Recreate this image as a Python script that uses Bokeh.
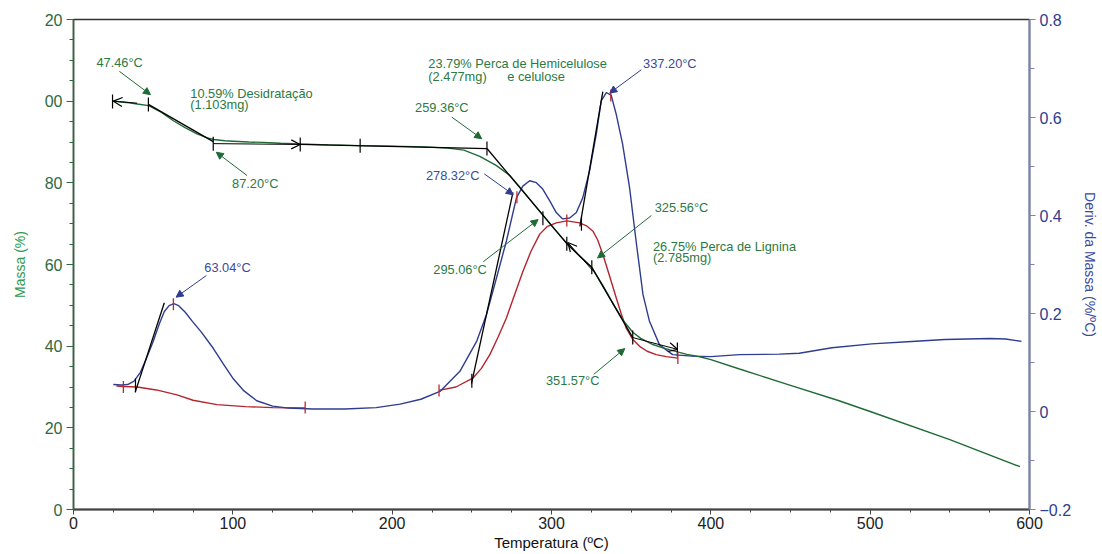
import numpy as np
from bokeh.plotting import figure
from bokeh.models import (Range1d, LinearAxis, FixedTicker, ColumnDataSource,
                          Arrow, NormalHead, OpenHead)
from bokeh.core.properties import value
from bokeh.embed import file_html
from bokeh.resources import INLINE

FONT = "Liberation Sans"

# ---------------- data ----------------
# TGA mass curve (left axis, %)
mass_temp = [24.5, 30, 35, 40, 47.2, 55, 62.7, 70, 77.5, 84, 88, 95, 100.3, 110, 119, 130,
             142.2, 160, 180, 200, 220, 235, 245, 255, 265.5, 273.8, 280, 287, 295, 302,
             310, 318, 325, 332, 340, 345, 351, 356, 363.6, 370, 376, 385, 393, 400, 418,
             450, 480, 500, 550, 594]
mass_pct = [100.0, 99.8, 99.6, 99.3, 98.9, 97.3, 95.2, 93.5, 92.0, 91.0, 90.6, 90.3, 90.2,
            90.0, 89.9, 89.7, 89.5, 89.3, 89.1, 89.0, 88.8, 88.5, 88.0, 86.5, 84.2, 81.8,
            79.0, 75.7, 71.9, 68.6, 65.0, 61.9, 59.4, 55.0, 49.5, 46.3, 43.4, 41.9, 40.4,
            39.6, 38.9, 38.0, 37.4, 36.7, 34.4, 30.4, 26.7, 24.0, 17.1, 10.5]

# DTG curve (right axis, %/°C)
dtg_temp = [25, 30, 34, 38, 42, 46, 50, 54, 57, 60, 63, 66, 70, 74.6, 80, 87.7, 94, 100, 107,
            115, 125, 135, 150, 170, 190, 205, 218, 230, 242.5, 253, 259.2, 265.5, 271.7,
            278, 282, 286.3, 290.5, 294.5, 298.9, 303, 307, 311.4, 315.6, 319.6, 323.9,
            328.1, 331.2, 334.4, 337.5, 340.6, 344.6, 349, 353, 357.4, 361.5, 367.8, 376,
            388, 400, 418, 443, 455.5, 476, 501, 526, 547, 575, 585, 595]
dtg_val = [0.055, 0.054, 0.055, 0.062, 0.080, 0.110, 0.143, 0.180, 0.204, 0.216, 0.220,
           0.216, 0.203, 0.184, 0.163, 0.129, 0.097, 0.068, 0.042, 0.022, 0.011, 0.007,
           0.005, 0.005, 0.008, 0.015, 0.025, 0.041, 0.082, 0.143, 0.198, 0.273, 0.348,
           0.436, 0.460, 0.471, 0.467, 0.454, 0.430, 0.406, 0.393, 0.395, 0.406, 0.436,
           0.491, 0.566, 0.634, 0.651, 0.645, 0.607, 0.546, 0.457, 0.350, 0.239, 0.184,
           0.136, 0.116, 0.113, 0.112, 0.116, 0.117, 0.119, 0.130, 0.138, 0.143, 0.147,
           0.149, 0.148, 0.143]

# red curve segments (right axis)
red1_temp = [27, 31.5, 40, 52, 65, 75, 90, 108, 125, 145.4]
red1_val = [0.052, 0.051, 0.050, 0.044, 0.034, 0.023, 0.014, 0.010, 0.008, 0.007]
red2_temp = [229.4, 240, 250.6, 256, 261.3, 266.5, 271.7, 277, 282.1, 287, 292.6, 297.5,
             303, 309.6, 317.7, 322, 326, 329, 332.3, 336.5, 340.6, 343.8, 346.9, 351,
             355.3, 360, 365.7, 372, 379.3]
red2_val = [0.043, 0.050, 0.068, 0.088, 0.116, 0.152, 0.191, 0.240, 0.286, 0.326, 0.362,
            0.378, 0.385, 0.389, 0.385, 0.379, 0.368, 0.350, 0.320, 0.276, 0.232, 0.199,
            0.170, 0.147, 0.133, 0.123, 0.116, 0.112, 0.109]

# construction (tangent) lines on the mass curve
tan_m_x0 = [47.0, 142.2, 259.5, 309.6, 325.3]
tan_m_y0 = [99.2, 89.4, 88.4, 65.1, 59.3]
tan_m_x1 = [87.7, 259.5, 309.6, 325.3, 351.0]
tan_m_y1 = [90.1, 88.4, 65.1, 59.3, 42.1]

# construction lines on the DTG curve
tan_d_x0 = [38.8, 249.8, 317.8]
tan_d_y0 = [0.040, 0.057, 0.378]
tan_d_x1 = [57.0, 275.8, 332.2]
tan_d_y1 = [0.222, 0.447, 0.653]

# tick markers
blk_m_x = [24.5, 47.0, 87.7, 142.3, 179.9, 259.5, 294.6, 309.6, 325.3, 351.0, 379.0]
blk_m_y = [99.9, 99.2, 89.6, 89.4, 89.1, 88.4, 71.3, 65.1, 59.3, 42.1, 39.2]
blk_d_x = [38.9, 250.0, 318.8]
blk_d_y = [0.053, 0.063, 0.383]
red_d_x = [31.3, 62.7, 145.4, 229.4, 278.3, 309.6, 337.2, 379.3]
red_d_y = [0.050, 0.219, 0.008, 0.043, 0.437, 0.390, 0.645, 0.109]

# annotation labels (position in °C / mass %)
green_txt = ["47.46°C", "10.59% Desidratação", "(1.103mg)", "87.20°C", "259.36°C",
             "23.79% Perca de Hemicelulose", "(2.477mg)", "e  celulose", "325.56°C",
             "26.75% Perca de Lignina", "(2.785mg)", "295.06°C", "351.57°C"]
green_tx = [14.4, 73.3, 73.3, 99.5, 214.4, 222.7, 222.7, 272.2, 364.8, 363.7, 363.7, 225.8, 296.5]
green_ty = [109.5, 101.9, 99.1, 79.8, 98.5, 109.2, 106.1, 106.1, 74.0, 64.5, 61.6, 58.8, 31.6]
blue_txt = ["337.20°C", "278.32°C", "63.04°C"]
blue_tx = [357.5, 221.2, 82.1]
blue_ty = [109.2, 81.8, 59.3]

# annotation arrows
g_ax0 = [28.8, 108.9, 237.4, 362.7, 257.2, 326.5]
g_ay0 = [107.3, 81.8, 96.1, 72.0, 60.7, 33.1]
g_ax1 = [48.3, 89.6, 256.2, 328.9, 291.6, 346.0]
g_ay1 = [101.6, 87.5, 90.8, 61.6, 71.0, 39.4]
b_ax0 = [356.4, 257.8, 83.4]
b_ay0 = [107.7, 82.2, 57.3]
b_ax1 = [336.6, 276.0, 64.4]
b_ay1 = [102.0, 77.1, 52.0]
k_ax0 = [40.0, 87.7, 325.9, 351.0]
k_ay0 = [99.5, 89.6, 58.5, 42.1]
k_ax1 = [25.0, 142.3, 310.2, 379.2]
k_ay1 = [100.0, 89.4, 65.4, 39.2]

x_ticks = [0, 100, 200, 300, 400, 500, 600]
x_minor = [v for v in range(0, 601, 25)]
y_ticks = [0, 20, 40, 60, 80, 100, 120]
y_minor = [v for v in range(0, 121, 5)]
d_ticks = [-0.2, 0.0, 0.2, 0.4, 0.6, 0.8]
d_minor = [-0.2, -0.1, 0.0, 0.1, 0.2, 0.3, 0.4, 0.5, 0.6, 0.7, 0.8]

GREEN_LINE = "#1f6b35"
GREEN_TXT = "#2a7a45"
BLUE_LINE = "#2e3d8f"
BLUE_TXT = "#3a4a9c"
RED_LINE = "#b3262e"

# ---------------- figure ----------------
p = figure(width=1101, height=553, x_range=Range1d(0, 600), y_range=Range1d(0, 120),
           output_backend="svg", toolbar_location=None,
           min_border_left=73, min_border_right=71, min_border_top=19, min_border_bottom=44)
p.extra_y_ranges = {"deriv": Range1d(-0.2, 0.8)}
p.xgrid.visible = False
p.ygrid.visible = False
p.outline_line_color = "#333333"
p.outline_line_width = 1.5
p.background_fill_color = "white"
p.border_fill_color = "white"

# left axis
ya = p.yaxis[0]
ya.ticker = FixedTicker(ticks=y_ticks, minor_ticks=y_minor)
ya.major_label_overrides = {100: "00", 120: "20"}
ya.axis_label = "Massa (%)"
ya.axis_label_text_color = "#2e9a52"
ya.axis_label_text_font = FONT
ya.axis_label_text_font_size = "14px"
ya.axis_label_text_font_style = "normal"
ya.axis_label_standoff = 14
ya.major_label_text_color = "#2d6a3e"
ya.major_label_text_font = FONT
ya.major_label_text_font_size = "16px"
ya.major_label_standoff = 4
ya.axis_line_color = "#2d6a3e"
ya.axis_line_width = 1.5
ya.major_tick_line_color = "#2d6a3e"
ya.minor_tick_line_color = "#2d6a3e"
ya.major_tick_out = 7
ya.major_tick_in = 0
ya.minor_tick_out = 4
ya.minor_tick_in = 0

# bottom axis
xa = p.xaxis[0]
xa.ticker = FixedTicker(ticks=x_ticks, minor_ticks=x_minor)
xa.axis_label = "Temperatura (ºC)"
xa.axis_label_text_color = "#111111"
xa.axis_label_text_font = FONT
xa.axis_label_text_font_size = "15px"
xa.axis_label_text_font_style = "normal"
xa.axis_label_standoff = 2
xa.major_label_text_color = "#222222"
xa.major_label_text_font = FONT
xa.major_label_text_font_size = "16px"
xa.major_label_standoff = 2
xa.axis_line_color = "#444444"
xa.axis_line_width = 2
xa.major_tick_line_color = "#444444"
xa.minor_tick_line_color = "#444444"
xa.major_tick_out = 5
xa.major_tick_in = 0
xa.minor_tick_out = 3
xa.minor_tick_in = 0

# right axis
ra = LinearAxis(y_range_name="deriv",
                ticker=FixedTicker(ticks=d_ticks, minor_ticks=d_minor))
ra.axis_label = "Deriv. da Massa (%/ºC)"
ra.axis_label_text_color = BLUE_TXT
ra.axis_label_text_font = FONT
ra.axis_label_text_font_size = "14px"
ra.axis_label_text_font_style = "normal"
ra.axis_label_standoff = 8
ra.major_label_text_color = "#2e3d8f"
ra.major_label_text_font = FONT
ra.major_label_text_font_size = "16px"
ra.major_label_standoff = 4
ra.axis_line_color = "#7a83b4"
ra.axis_line_width = 2
ra.major_tick_line_color = "#7a83b4"
ra.minor_tick_line_color = "#7a83b4"
ra.major_tick_out = 6
ra.major_tick_in = 0
ra.minor_tick_out = 5
ra.minor_tick_in = 0
p.add_layout(ra, "right")

# ---------------- curves ----------------
p.line(red1_temp, red1_val, y_range_name="deriv", line_color=RED_LINE, line_width=1.4)
p.line(red2_temp, red2_val, y_range_name="deriv", line_color=RED_LINE, line_width=1.4)
p.line(dtg_temp, dtg_val, y_range_name="deriv", line_color=BLUE_LINE, line_width=1.4)
p.line(mass_temp, mass_pct, line_color=GREEN_LINE, line_width=1.4)

# construction lines
p.segment(x0=tan_m_x0, y0=tan_m_y0, x1=tan_m_x1, y1=tan_m_y1,
          line_color="black", line_width=1.3)
p.segment(x0=tan_d_x0, y0=tan_d_y0, x1=tan_d_x1, y1=tan_d_y1,
          y_range_name="deriv", line_color="black", line_width=1.3)

# tick markers
p.scatter(blk_m_x, blk_m_y, marker="dash", angle=np.pi / 2, size=14,
          line_color="black", line_width=1.2)
p.scatter(blk_d_x, blk_d_y, marker="dash", angle=np.pi / 2, size=14, y_range_name="deriv",
          line_color="black", line_width=1.2)
p.scatter(red_d_x, red_d_y, marker="dash", angle=np.pi / 2, size=12, y_range_name="deriv",
          line_color="#c0272d", line_width=1.3)

# arrows
def add_arrows(x0, y0, x1, y1, color, head):
    src = ColumnDataSource(dict(x0=x0, y0=y0, x1=x1, y1=y1))
    p.add_layout(Arrow(end=head, x_start="x0", y_start="y0", x_end="x1", y_end="y1",
                       source=src, line_color=color, line_width=1))

add_arrows(g_ax0, g_ay0, g_ax1, g_ay1, GREEN_LINE,
           NormalHead(size=7, fill_color=GREEN_LINE, line_color=GREEN_LINE))
add_arrows(b_ax0, b_ay0, b_ax1, b_ay1, BLUE_LINE,
           NormalHead(size=7, fill_color=BLUE_LINE, line_color=BLUE_LINE))
add_arrows(k_ax0, k_ay0, k_ax1, k_ay1, "black",
           OpenHead(size=9, line_color="black", line_width=1.2))

# labels
p.text(x=green_tx, y=green_ty, text=green_txt, text_color=GREEN_TXT,
       text_font=value(FONT), text_font_size="12.8px",
       text_baseline="middle", text_align="left")
p.text(x=blue_tx, y=blue_ty, text=blue_txt, text_color=BLUE_TXT,
       text_font=value(FONT), text_font_size="12.8px",
       text_baseline="middle", text_align="left")

open("out.html", "w").write(file_html(p, INLINE))
